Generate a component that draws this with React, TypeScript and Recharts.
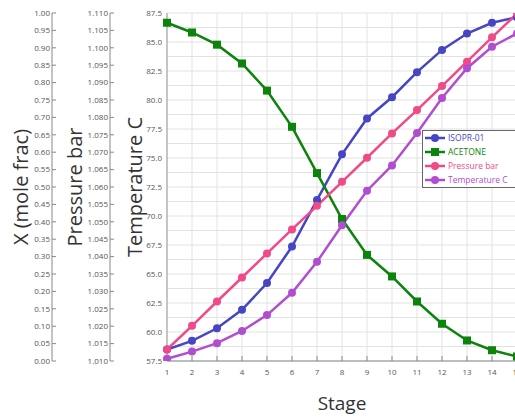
import { CartesianGrid, Legend, Line, LineChart, XAxis, YAxis } from "recharts";

// stage profile of the column
const stages = [1, 2, 3, 4, 5, 6, 7, 8, 9, 10, 11, 12, 13, 14, 15];
const isopr = [0.033, 0.058, 0.094, 0.147, 0.224, 0.329, 0.463, 0.594, 0.697, 0.758, 0.83, 0.894, 0.941, 0.972, 0.988];
const acetone = [0.972, 0.944, 0.909, 0.855, 0.777, 0.673, 0.54, 0.408, 0.305, 0.243, 0.171, 0.107, 0.059, 0.031, 0.013];
const pressure = [1.0133, 1.0201, 1.0271, 1.034, 1.0409, 1.0478, 1.0546, 1.0615, 1.0684, 1.0754, 1.0821, 1.089, 1.096, 1.103, 1.1098];
const temperature = [57.7, 58.31, 59.04, 60.09, 61.46, 63.38, 66.05, 69.2, 72.18, 74.36, 77.16, 80.17, 82.74, 84.59, 85.74];

const fracTicks = [0, 0.05, 0.1, 0.15, 0.2, 0.25, 0.3, 0.35, 0.4, 0.45, 0.5, 0.55, 0.6, 0.65, 0.7, 0.75, 0.8, 0.85, 0.9, 0.95, 1];
const pressTicks = [1.01, 1.015, 1.02, 1.025, 1.03, 1.035, 1.04, 1.045, 1.05, 1.055, 1.06, 1.065, 1.07, 1.075, 1.08, 1.085, 1.09, 1.095, 1.1, 1.105, 1.11];
const tempTicks = [57.5, 60, 62.5, 65, 67.5, 70, 72.5, 75, 77.5, 80, 82.5, 85, 87.5];
// minor grid lines sit halfway between the temperature ticks
const gridTicks = tempTicks.flatMap((t, i) => (i === 0 ? [t] : [t - 1.25, t]));

const data = stages.map((stage, i) => ({
  stage,
  isopr: isopr[i],
  acetone: acetone[i],
  pressure: pressure[i],
  temperature: temperature[i],
}));

// left axes get stacked outward by id order, so the ids carry a prefix
const series = [
  { key: "isopr", name: "ISOPR-01", color: "#4646c4", axis: "y3frac", square: false },
  { key: "acetone", name: "ACETONE", color: "#0c840c", axis: "y3frac", square: true },
  { key: "pressure", name: "Pressure bar", color: "#f04a88", axis: "y2press", square: false },
  { key: "temperature", name: "Temperature C", color: "#b04ecf", axis: "y1temp", square: false },
];

const tickStyle = { fontSize: 8, fill: "#555" };
const titleStyle = { textAnchor: "middle" as const, fontSize: 20, fill: "#333" };

function LegendBox() {
  return (
    <div
      style={{
        border: "1px solid #666",
        background: "#fff",
        width: 93,
        padding: "0 0 0 2px",
        fontSize: 8.5,
        lineHeight: "14px",
      }}
    >
      {series.map((s) => (
        <div key={s.key} style={{ display: "flex", alignItems: "center", height: 14 }}>
          <svg width={20} height={10} style={{ marginRight: 3 }}>
            <line x1={0} y1={5} x2={20} y2={5} stroke={s.color} strokeWidth={2.5} />
            {s.square ? (
              <rect x={6} y={1} width={8} height={8} fill={s.color} />
            ) : (
              <circle cx={10} cy={5} r={4} fill={s.color} />
            )}
          </svg>
          <span style={{ color: s.color }}>{s.name}</span>
        </div>
      ))}
    </div>
  );
}

export default function App() {
  return (
    <div
      style={{
        position: "absolute",
        left: 0,
        top: 0,
        width: 515,
        height: 417,
        overflow: "hidden",
        fontFamily: '"Open Sans", sans-serif',
        background: "#fff",
      }}
    >
      <LineChart width={530} height={417} data={data} margin={{ top: 13, right: 13, bottom: 0, left: 0 }}>
        <CartesianGrid yAxisId="ygrid" stroke="#e2e2e2" />
        <XAxis
          dataKey="stage"
          type="number"
          domain={[1, 15]}
          ticks={stages}
          interval={0}
          height={56}
          tickSize={-5}
          tickMargin={13.5}
          axisLine={{ stroke: "#888" }}
          tickLine={{ stroke: "#888" }}
          tick={tickStyle}
          label={{ value: "Stage", position: "insideBottom", offset: 7, fontSize: 19, fill: "#333" }}
        />
        <YAxis
          yAxisId="y1temp"
          domain={[57.5, 87.5]}
          ticks={tempTicks}
          interval={0}
          allowDataOverflow
          width={57}
          tickLine={false}
          tickSize={0}
          tickMargin={5}
          axisLine={{ stroke: "#999" }}
          tick={tickStyle}
          tickFormatter={(v: number) => v.toFixed(1)}
          label={{ value: "Temperature C", angle: -90, position: "insideLeft", offset: 24.5, fontSize: 20, style: titleStyle }}
        />
        <YAxis
          yAxisId="y2press"
          domain={[1.01, 1.11]}
          ticks={pressTicks}
          interval={0}
          allowDataOverflow
          width={58}
          tickSize={-4}
          tickMargin={6}
          axisLine={{ stroke: "#888" }}
          tickLine={{ stroke: "#888" }}
          tick={tickStyle}
          tickFormatter={(v: number) => v.toFixed(3)}
          label={{ value: "Pressure bar", angle: -90, position: "insideLeft", offset: 23, fontSize: 20, style: titleStyle }}
        />
        <YAxis
          yAxisId="y3frac"
          domain={[0, 1]}
          ticks={fracTicks}
          interval={0}
          allowDataOverflow
          width={52}
          tickSize={-4}
          tickMargin={6}
          axisLine={{ stroke: "#888" }}
          tickLine={{ stroke: "#888" }}
          tick={tickStyle}
          tickFormatter={(v: number) => v.toFixed(2)}
          label={{ value: "X (mole frac)", angle: -90, position: "insideLeft", offset: 21, fontSize: 20, style: titleStyle }}
        />
        <YAxis yAxisId="ygrid" hide domain={[57.5, 87.5]} ticks={gridTicks} interval={0} allowDataOverflow />
        {series.map((s) => (
          <Line
            key={s.key}
            yAxisId={s.axis}
            dataKey={s.key}
            name={s.name}
            type="linear"
            stroke={s.color}
            strokeWidth={2.5}
            isAnimationActive={false}
            dot={
              s.square
                ? (p: any) => <rect key={p.index} x={p.cx - 4} y={p.cy - 4} width={8} height={8} fill={s.color} />
                : { r: 4, fill: s.color, stroke: s.color, strokeWidth: 0 }
            }
            activeDot={false}
          />
        ))}
        <Legend
          layout="vertical"
          align="center"
          verticalAlign="middle"
          wrapperStyle={{ left: 422, top: 130, width: 96 }}
          content={() => <LegendBox />}
        />
      </LineChart>
    </div>
  );
}
